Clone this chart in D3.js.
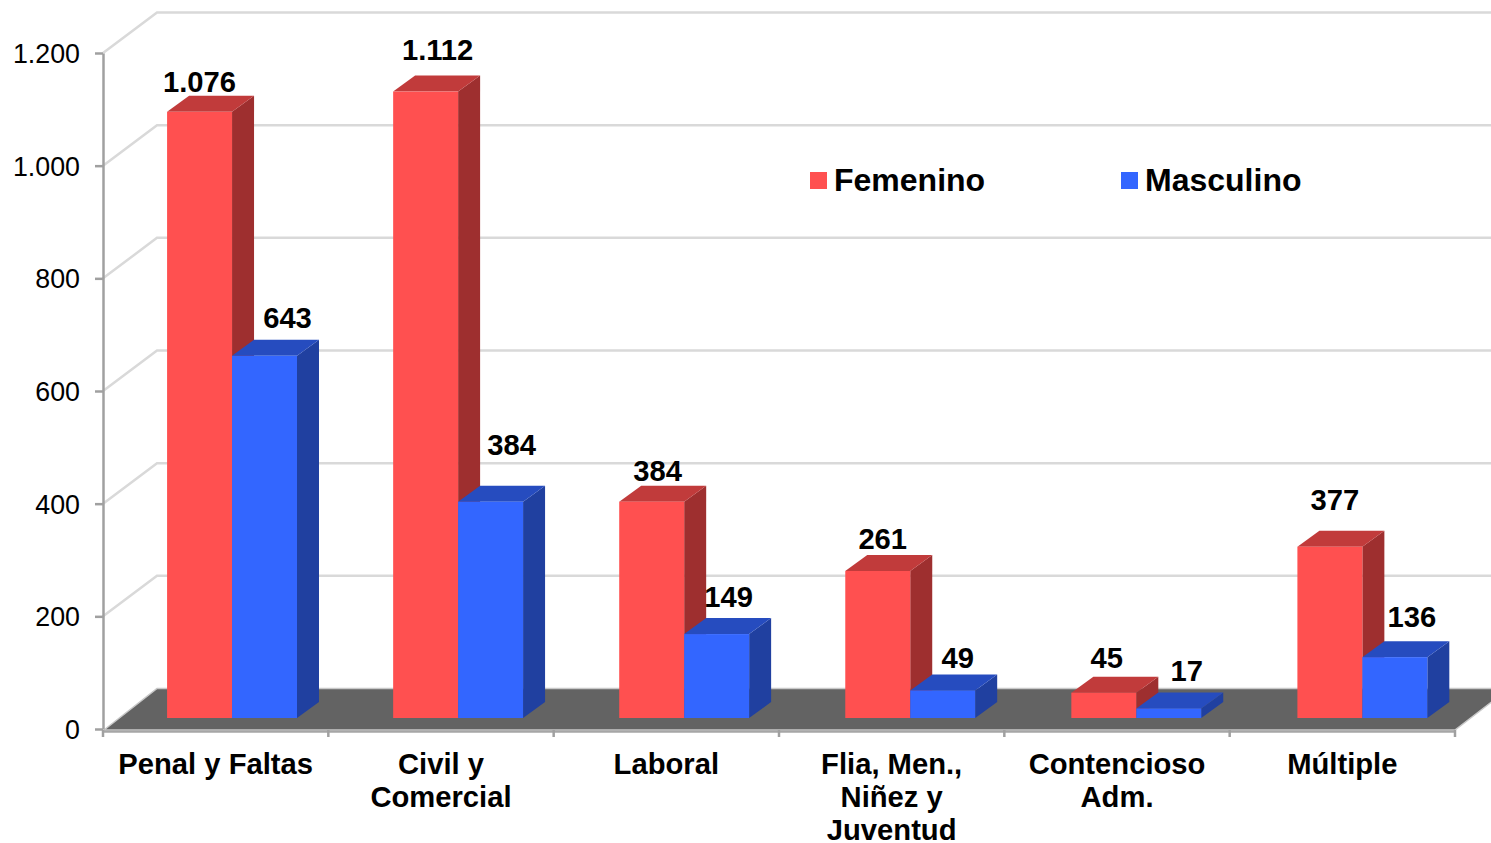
<!DOCTYPE html>
<html><head><meta charset="utf-8">
<script src="https://cdn.jsdelivr.net/npm/d3@7/dist/d3.min.js"></script>
<style>
html,body{margin:0;padding:0;background:#fff;overflow:hidden}
svg{display:block}
text{font-family:"Liberation Sans",Arial,sans-serif;fill:#000}
</style></head><body>
<svg id="c" width="1491" height="843"></svg>
<script>
// Data
const categories = ["Penal y Faltas","Civil y Comercial","Laboral","Flia, Men., Niñez y Juventud","Contencioso Adm.","Múltiple"];
const categoryLines = [["Penal y Faltas"],["Civil y","Comercial"],["Laboral"],["Flia, Men.,","Niñez y","Juventud"],["Contencioso","Adm."],["Múltiple"]];
const seriesNames = ["Femenino","Masculino"];
// bar heights as drawn in the picture
const femenino  = [1076,1112,384,261,45,304];
const masculino = [643,384,149,49,17,108];
// printed labels (the last group's printed labels differ from its drawn heights)
const femeninoLabels  = ["1.076","1.112","384","261","45","377"];
const masculinoLabels = ["643","384","149","49","17","136"];
const yTicks = [0,200,400,600,800,1000,1200];

// Layout
const W=1491,H=843;
const plot={left:103,right:1455,y0:729,y1:53};
const wall={dx:54,dy:-40.5};    // depth of the chart box
const depth={dx:22,dy:-16};     // depth of a bar
const barLift=-11;              // bars stand inside the floor
const barRange=[119,1475.4];
const colors={
  Femenino:{front:"#FF5050",side:"#9E2F2F",top:"#C13B3B"},
  Masculino:{front:"#3366FF",side:"#2040A0",top:"#264CBF"}
};
// label nudges from the bar's front-face centre / top (dx, dy to baseline)
const labelNudgeF=[[0,-20],[12,-32],[6,-21],[5,-22],[3,-24.5],[5,-37]];
const labelNudgeM=[[23,-28],[21,-47],[12,-27],[15,-22],[18,-27],[17,-30]];

const svg=d3.select("#c");
const x=d3.scaleBand().domain(categories).range([plot.left,plot.right]);
const xBars=d3.scaleBand().domain(categories).range(barRange).paddingInner(0.4253).paddingOuter(0.2127);
const xSeries=d3.scaleBand().domain(seriesNames).range([0,xBars.bandwidth()]);
const y=d3.scaleLinear().domain([0,1200]).range([plot.y0,plot.y1]);
const pts=a=>a.map(p=>p.join(",")).join(" ");

// gridlines: back wall + side wall
const grid=svg.append("g").attr("fill","none").attr("stroke","#D9D9D9").attr("stroke-width",2.5);
yTicks.filter(t=>t>0).forEach(t=>{
  grid.append("polyline").attr("points",pts([
    [plot.left,y(t)],
    [plot.left+wall.dx,y(t)+wall.dy],
    [W+30,y(t)+wall.dy]]));
});

// floor
svg.append("polygon").attr("fill","#636363")
  .attr("stroke","#C8C8C8").attr("stroke-width",1.5)
  .attr("points",pts([
    [plot.left+1,y(0)+1],
    [plot.left+wall.dx,y(0)+wall.dy],
    [plot.right+wall.dx,y(0)+wall.dy],
    [plot.right,y(0)+1]]));

// axes
const fmt=d=>d3.format(",")(d).replace(",",".");
const axisY=svg.append("g").attr("transform",`translate(${plot.left},0)`)
  .call(d3.axisLeft(y).tickValues(yTicks).tickFormat(fmt).tickSize(8).tickSizeOuter(0).tickPadding(15));
const axisX=svg.append("g").attr("transform",`translate(0,${plot.y0+2})`)
  .call(d3.axisBottom(x).tickValues([]).tickSizeOuter(0));
axisY.selectAll("path,line").attr("stroke","#A0A0A0").attr("stroke-width",2.5);
axisX.selectAll("path").attr("stroke","#A6A6A6").attr("stroke-width",2.5);
axisY.selectAll("text").attr("font-size",26.8).attr("dy","0.36em").style("font-family",'"Liberation Sans",Arial,sans-serif').attr("fill","#000");
// category boundary ticks
const boundaries=categories.map(c=>x(c)).concat([plot.right]);
svg.append("g").selectAll("line").data(boundaries).join("line")
  .attr("x1",d=>d).attr("x2",d=>d)
  .attr("y1",plot.y0+1).attr("y2",plot.y0+8)
  .attr("stroke","#A0A0A0").attr("stroke-width",2.5);

// bars
const rows=[];
categories.forEach((c,i)=>{
  rows.push({c,i,s:"Femenino",v:femenino[i],label:femeninoLabels[i],n:labelNudgeF[i]});
  rows.push({c,i,s:"Masculino",v:masculino[i],label:masculinoLabels[i],n:labelNudgeM[i]});
});
const bars=svg.append("g").selectAll("g").data(rows).join("g");
bars.each(function(d){
  const g=d3.select(this);
  const x0=xBars(d.c)+xSeries(d.s), x1=x0+xSeries.bandwidth();
  const yb=y(0)+barLift, yt=y(d.v)+barLift, col=colors[d.s];
  g.append("polygon").attr("fill",col.side).attr("points",pts([
    [x1,yt],[x1+depth.dx,yt+depth.dy],[x1+depth.dx,yb+depth.dy],[x1,yb]]));
  g.append("polygon").attr("fill",col.top).attr("points",pts([
    [x0,yt],[x0+depth.dx,yt+depth.dy],[x1+depth.dx,yt+depth.dy],[x1,yt]]));
  g.append("rect").attr("x",x0).attr("y",yt).attr("width",x1-x0).attr("height",yb-yt).attr("fill",col.front);
});

// value labels
svg.append("g").selectAll("text").data(rows).join("text")
  .attr("x",d=>xBars(d.c)+xSeries(d.s)+xSeries.bandwidth()/2+d.n[0])
  .attr("y",d=>y(d.v)+barLift+d.n[1])
  .attr("text-anchor","middle").attr("font-size",29.2).attr("font-weight","bold")
  .text(d=>d.label);

// category labels
const catG=svg.append("g").selectAll("text").data(categories).join("text")
  .attr("text-anchor","middle").attr("font-size",29.2).attr("font-weight","bold");
catG.each(function(c,i){
  const t=d3.select(this);
  categoryLines[i].forEach((l,j)=>{
    t.append("tspan").attr("x",x(c)+x.bandwidth()/2).attr("y",774+j*33).text(l);
  });
});

// legend
const legendX=[810,1121];
const leg=svg.append("g").selectAll("g").data(seriesNames).join("g");
leg.append("rect").attr("x",(d,i)=>legendX[i]).attr("y",172).attr("width",17).attr("height",17)
  .attr("fill",d=>colors[d].front);
leg.append("text").attr("x",(d,i)=>legendX[i]+24).attr("y",191)
  .attr("font-size",32).attr("font-weight","bold").text(d=>d);
</script>
</body></html>
